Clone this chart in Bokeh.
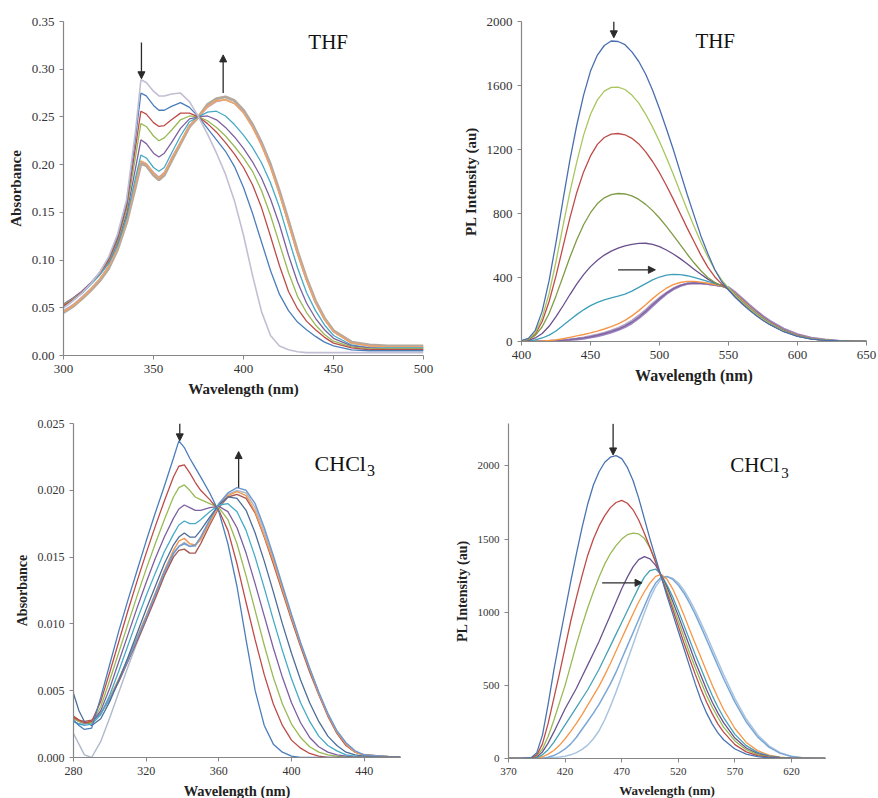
from bokeh.plotting import figure
from bokeh.layouts import column, row
from bokeh.models import Range1d, FixedTicker, PrintfTickFormatter, Label, Arrow, NormalHead
from bokeh.embed import file_html
from bokeh.resources import INLINE

# ---------------- Panel 1: THF absorbance ----------------
thf_abs_nm = [300,305,310,315,320,325,330,335,340,343,346,350,353,356,360,365,370,375,380,385,390,395,400,405,410,415,420,425,430,435,440,445,450,460,470,480,490,500]
thf_abs_gray = [.050,.057,.065,.075,.087,.103,.127,.163,.235,.289,.286,.277,.272,.272,.274,.275,.266,.250,.232,.212,.190,.162,.126,.084,.046,.021,.010,.006,.004,.003,.003,.003,.003,.003,.003,.003,.003,.003]
thf_abs_blue = [.050,.057,.065,.075,.087,.102,.125,.160,.228,.275,.272,.262,.257,.257,.261,.265,.260,.250,.238,.226,.214,.198,.176,.149,.119,.089,.064,.047,.035,.027,.020,.014,.010,.006,.005,.005,.005,.005]
thf_abs_red = [.052,.058,.066,.075,.086,.100,.122,.156,.218,.256,.253,.244,.240,.241,.247,.254,.254,.250,.243,.234,.223,.211,.197,.179,.155,.125,.094,.067,.049,.036,.027,.019,.013,.008,.006,.006,.006,.006]
thf_abs_green = [.053,.059,.066,.075,.086,.099,.120,.152,.208,.243,.240,.230,.225,.228,.236,.247,.251,.250,.246,.239,.230,.219,.207,.193,.173,.147,.117,.087,.062,.045,.032,.022,.015,.009,.007,.007,.007,.007]
thf_abs_purple = [.054,.060,.067,.076,.086,.098,.118,.148,.196,.226,.222,.212,.208,.212,.223,.238,.248,.250,.251,.247,.239,.229,.217,.203,.186,.164,.137,.105,.077,.055,.039,.027,.018,.010,.008,.007,.007,.007]
thf_abs_aqua = [.052,.058,.065,.074,.084,.096,.115,.144,.186,.210,.207,.197,.193,.197,.212,.230,.245,.250,.255,.256,.251,.242,.231,.218,.202,.181,.155,.123,.092,.066,.047,.032,.021,.011,.008,.008,.008,.008]
thf_abs_orange = [.046,.052,.060,.069,.080,.093,.113,.141,.180,.204,.201,.191,.186,.191,.206,.223,.241,.250,.261,.267,.268,.264,.254,.239,.220,.197,.169,.138,.107,.079,.055,.038,.025,.013,.010,.009,.009,.009]
thf_abs_tan = [.045,.051,.059,.068,.078,.091,.111,.139,.177,.201,.199,.189,.184,.189,.204,.222,.240,.250,.263,.269,.271,.267,.257,.242,.223,.200,.172,.141,.109,.081,.057,.039,.026,.014,.011,.010,.010,.010]
thf_abs_lav = [.047,.053,.061,.070,.080,.093,.113,.141,.179,.203,.201,.192,.187,.192,.207,.224,.241,.250,.260,.266,.268,.264,.255,.240,.221,.198,.170,.139,.107,.079,.056,.038,.025,.013,.010,.009,.009,.009]
thf_abs_xticks = [300, 350, 400, 450, 500]
thf_abs_yticks = [0, 0.05, 0.10, 0.15, 0.20, 0.25, 0.30, 0.35]

# ---------------- Panel 2: THF PL ----------------
thf_pl_nm = [400,405,410,415,420,425,430,435,440,445,450,455,460,465,470,475,480,485,490,495,500,505,510,515,520,525,530,535,540,545,550,555,560,565,570,575,580,590,600,610,620,630,640,650]
thf_pl_blue = [5,20,70,190,380,620,880,1130,1350,1540,1690,1790,1850,1878,1875,1855,1810,1750,1670,1570,1455,1330,1200,1060,920,790,660,550,450,375,322,275,234,197,162,131,105,61,32,15,7,3,1,0]
thf_pl_lgreen = [4,16,55,150,300,500,720,930,1120,1290,1420,1510,1565,1588,1590,1575,1540,1490,1420,1340,1250,1150,1045,935,825,720,620,530,450,385,335,288,246,207,171,139,111,65,34,16,8,3,1,0]
thf_pl_red = [4,14,48,125,250,410,590,770,930,1060,1160,1232,1275,1296,1300,1292,1270,1235,1185,1125,1055,975,890,800,710,625,540,465,405,360,325,280,238,200,165,134,107,63,33,16,7,3,1,0]
thf_pl_olive = [3,11,38,92,175,285,405,525,635,730,805,862,898,918,925,922,910,888,857,818,772,720,663,605,547,492,442,400,370,350,325,282,240,202,167,136,109,64,34,16,7,3,1,0]
thf_pl_purple = [2,7,22,50,95,155,222,292,358,418,468,508,540,565,583,597,607,613,614,607,593,572,547,518,486,452,420,390,367,350,328,287,245,206,171,139,111,66,35,17,8,3,1,0]
thf_pl_teal = [1,3,10,22,40,66,100,135,168,198,224,244,260,272,283,296,315,338,362,385,403,415,420,418,411,401,389,376,363,350,330,290,250,211,175,143,114,68,37,18,8,3,1,0]
thf_pl_orange = [0,1,2,3,6,10,17,26,35,44,54,65,78,93,110,132,160,193,230,268,303,333,355,369,376,376,371,364,356,348,333,296,257,218,181,148,118,71,39,19,9,4,1,0]
thf_pl_lav1 = [0,0,1,2,3,5,8,12,17,23,30,39,50,63,78,97,122,153,190,230,268,302,330,350,362,366,364,359,353,347,336,302,264,225,188,154,124,76,42,21,10,4,1,0]
thf_pl_lav2 = [0,0,1,2,4,7,11,15,20,27,35,45,56,70,86,107,132,164,200,240,275,307,334,352,363,365,363,358,352,346,337,304,266,227,190,156,126,78,43,22,10,4,1,0]
thf_pl_lav3 = [0,0,1,1,2,4,6,10,14,19,26,34,45,57,72,91,115,146,182,222,262,298,327,348,361,365,364,360,354,348,338,306,268,229,192,158,128,79,44,22,11,4,1,0]
thf_pl_xticks = [400, 450, 500, 550, 600, 650]
thf_pl_yticks = [0, 400, 800, 1200, 1600, 2000]

# ---------------- Panel 3: CHCl3 absorbance ----------------
chcl3_abs_nm = [280,283,286,290,295,300,305,310,315,320,325,330,335,338,341,344,347,350,355,360,365,370,375,380,385,390,395,400,405,410,415,420,425,430,435,440,450,460]
chcl3_abs_blue = [.0028,.0024,.0021,.0022,.0045,.0070,.0095,.0118,.0140,.0162,.0183,.0203,.0224,.0237,.0232,.0224,.0217,.0210,.0198,.0184,.0160,.0128,.0088,.0050,.0024,.0010,.0004,.0001,0,0,0,0,0,0,0,0,0,0]
chcl3_abs_red = [.0030,.0028,.0026,.0027,.0042,.0064,.0087,.0110,.0132,.0153,.0173,.0192,.0210,.0218,.0219,.0213,.0206,.0200,.0193,.0185,.0170,.0145,.0116,.0088,.0062,.0040,.0024,.0013,.0007,.0003,.0001,0,0,0,0,0,0,0]
chcl3_abs_green = [.0029,.0027,.0026,.0026,.0038,.0058,.0079,.0100,.0121,.0141,.0160,.0178,.0195,.0202,.0204,.0200,.0195,.0193,.0190,.0187,.0178,.0160,.0136,.0110,.0084,.0060,.0040,.0025,.0015,.0008,.0004,.0002,.0001,0,0,0,0,0]
chcl3_abs_purple = [.0029,.0027,.0026,.0026,.0035,.0052,.0072,.0092,.0112,.0131,.0149,.0165,.0179,.0186,.0189,.0187,.0185,.0185,.0187,.0188,.0184,.0172,.0153,.0130,.0106,.0082,.0060,.0041,.0026,.0015,.0008,.0004,.0002,.0001,0,0,0,0]
chcl3_abs_teal = [.0027,.0025,.0024,.0025,.0032,.0047,.0065,.0084,.0103,.0121,.0138,.0154,.0167,.0174,.0177,.0175,.0175,.0178,.0184,.0189,.0190,.0184,.0170,.0150,.0127,.0103,.0080,.0059,.0041,.0027,.0016,.0009,.0005,.0002,.0001,0,0,0]
chcl3_abs_steel = [.0048,.0035,.0027,.0024,.0029,.0042,.0058,.0075,.0093,.0111,.0128,.0145,.0159,.0165,.0168,.0165,.0165,.0170,.0180,.0189,.0195,.0194,.0185,.0168,.0147,.0124,.0100,.0078,.0058,.0041,.0027,.0016,.0009,.0004,.0002,.0001,0,0]
chcl3_abs_orange = [.0030,.0027,.0026,.0027,.0033,.0045,.0059,.0074,.0090,.0106,.0123,.0140,.0155,.0162,.0164,.0160,.0159,.0163,.0176,.0188,.0196,.0199,.0196,.0184,.0166,.0147,.0126,.0105,.0085,.0066,.0048,.0032,.0019,.0010,.0004,.0002,.0001,0]
chcl3_abs_ltblue = [.0027,.0025,.0025,.0027,.0033,.0044,.0058,.0073,.0089,.0105,.0122,.0139,.0153,.0158,.0160,.0158,.0159,.0165,.0178,.0190,.0198,.0202,.0200,.0190,.0172,.0151,.0129,.0107,.0086,.0067,.0049,.0033,.0020,.0011,.0005,.0002,.0001,0]
chcl3_abs_brown = [.0031,.0028,.0027,.0028,.0033,.0044,.0057,.0072,.0087,.0103,.0119,.0136,.0150,.0155,.0156,.0153,.0153,.0160,.0174,.0187,.0195,.0197,.0194,.0183,.0165,.0145,.0124,.0103,.0083,.0064,.0047,.0031,.0018,.0009,.0004,.0002,.0001,0]
chcl3_abs_gray = [.0018,.0010,.0002,.0000,.0012,.0030,.0049,.0068,.0086,.0103,.0120,.0137,.0152,.0158,.0161,.0158,.0158,.0164,.0177,.0189,.0197,.0200,.0198,.0187,.0169,.0149,.0127,.0106,.0085,.0066,.0048,.0032,.0019,.0010,.0004,.0002,.0001,0]
chcl3_abs_xticks = [280, 320, 360, 400, 440]
chcl3_abs_yticks = [0, 0.005, 0.010, 0.015, 0.020, 0.025]

# ---------------- Panel 4: CHCl3 PL ----------------
chcl3_pl_nm = [370,380,390,395,400,405,410,415,420,425,430,435,440,445,450,455,460,465,470,475,480,485,490,495,500,505,510,515,520,525,530,535,540,545,550,555,560,570,580,590,600,610,620,630,640,650]
chcl3_pl_blue = [0,0,5,40,160,370,600,810,1010,1210,1400,1580,1740,1870,1960,2025,2060,2070,2050,1990,1900,1780,1640,1500,1370,1240,1110,990,870,750,630,510,400,310,235,175,128,65,30,13,5,2,0,0,0,0]
chcl3_pl_red = [0,0,3,25,100,240,410,580,760,940,1100,1250,1390,1500,1590,1660,1715,1750,1765,1745,1700,1630,1540,1440,1340,1240,1130,1020,905,790,680,575,475,385,305,235,180,95,45,20,8,3,1,0,0,0]
chcl3_pl_green = [0,0,2,18,65,150,260,380,500,640,780,910,1030,1140,1240,1330,1400,1455,1500,1530,1540,1535,1505,1440,1350,1245,1150,1045,940,830,720,620,525,430,350,280,215,120,60,27,11,4,1,0,0,0]
chcl3_pl_purple = [0,0,1,12,45,105,180,260,340,410,480,560,640,720,800,890,980,1070,1160,1240,1310,1360,1380,1365,1320,1250,1170,1075,975,870,765,660,565,470,385,310,245,140,72,33,14,5,2,0,0,0]
chcl3_pl_teal = [0,0,0,6,25,60,110,170,230,290,350,410,470,540,610,690,770,850,930,1010,1090,1170,1240,1285,1295,1255,1185,1105,1010,910,810,710,615,520,430,350,280,165,88,42,18,7,2,1,0,0]
chcl3_pl_orange = [0,0,0,3,12,30,55,90,135,185,240,300,365,430,495,570,650,735,820,905,990,1070,1140,1200,1245,1258,1225,1160,1075,980,880,785,690,595,500,415,335,205,110,54,23,9,3,1,0,0]
chcl3_pl_ltblue1 = [0,0,0,1,2,8,20,40,65,100,145,200,255,310,370,440,510,590,680,770,860,950,1040,1130,1200,1240,1245,1225,1185,1130,1062,985,900,812,722,632,545,385,250,148,78,35,13,4,1,0]
chcl3_pl_ltblue2 = [0,0,0,0,1,3,6,10,16,25,40,62,92,135,190,265,355,455,560,670,780,890,995,1095,1175,1228,1242,1232,1200,1150,1085,1010,928,842,752,662,574,410,270,162,87,40,16,5,1,0]
chcl3_pl_xticks = [370, 420, 470, 520, 570, 620]
chcl3_pl_yticks = [0, 500, 1000, 1500, 2000]

SERIF = "Liberation Serif"
AXIS_GRAY = "#868686"
ARROW_COLOR = "#2b2b2b"


def make_fig(xr, yr, fw, fh, left, right, top, bottom, xticks, yticks, yfmt, xlabel, ylabel,
             tick_size, xlab_size, ylab_size):
    p = figure(frame_width=fw, frame_height=fh, x_range=Range1d(*xr), y_range=Range1d(*yr),
               output_backend="svg", toolbar_location=None, tools="")
    p.min_border_left = left
    p.min_border_right = right
    p.min_border_top = top
    p.min_border_bottom = bottom
    p.outline_line_color = None
    p.background_fill_color = "white"
    p.border_fill_color = "white"
    p.xgrid.visible = False
    p.ygrid.visible = False
    p.xaxis.ticker = FixedTicker(ticks=xticks)
    p.yaxis.ticker = FixedTicker(ticks=yticks)
    if yfmt:
        p.yaxis.formatter = PrintfTickFormatter(format=yfmt)
    for ax in (p.xaxis[0], p.yaxis[0]):
        ax.axis_line_color = AXIS_GRAY
        ax.axis_line_width = 1.2
        ax.major_tick_line_color = AXIS_GRAY
        ax.major_tick_in = 0
        ax.major_tick_out = 4
        ax.minor_tick_line_color = None
        ax.major_label_text_font = SERIF
        ax.major_label_text_font_size = tick_size
        ax.major_label_text_color = "#333333"
        ax.major_label_standoff = 5
        ax.axis_label_text_font = SERIF
        ax.axis_label_text_font_style = "bold"
        ax.axis_label_text_color = "#222222"
        ax.axis_label_standoff = 5
    p.xaxis.axis_label = xlabel
    p.yaxis.axis_label = ylabel
    p.xaxis.axis_label_text_font_size = xlab_size
    p.yaxis.axis_label_text_font_size = ylab_size
    return p


def add_arrow(p, xs, ys, xe, ye):
    p.add_layout(Arrow(end=NormalHead(size=7, fill_color=ARROW_COLOR, line_color=ARROW_COLOR),
                       x_start=xs, y_start=ys, x_end=xe, y_end=ye,
                       line_color=ARROW_COLOR, line_width=1.3))


# Panel 1
p1 = make_fig((300, 500), (0, 0.35), 360, 334, 63, 17, 19, 45, thf_abs_xticks, thf_abs_yticks, "%.2f",
              "Wavelength (nm)", "Absorbance", "13px", "15px", "15px")
for ys, c, w in [(thf_abs_tan, "#B5A99C", 3.0), (thf_abs_lav, "#B7A8D0", 1.4), (thf_abs_orange, "#F2A25E", 1.4),
                 (thf_abs_aqua, "#46AAC5", 1.3), (thf_abs_purple, "#7D60A0", 1.3), (thf_abs_green, "#98B954", 1.3),
                 (thf_abs_red, "#BE4B48", 1.3), (thf_abs_blue, "#4A7EBB", 1.3), (thf_abs_gray, "#C3BFD3", 1.6)]:
    p1.line(thf_abs_nm, ys, line_color=c, line_width=w)
add_arrow(p1, 343.3, 0.328, 343.3, 0.290)
add_arrow(p1, 388.7, 0.275, 388.7, 0.315)
p1.add_layout(Label(x=436, y=0.328, text="THF", text_font=SERIF, text_font_size="21px",
                    text_baseline="middle", text_align="left", text_color="#111111"))

# Panel 2
p2 = make_fig((400, 650), (0, 2000), 345, 320, 81, 11, 21, 57, thf_pl_xticks, thf_pl_yticks, None,
              "Wavelength (nm)", "PL Intensity (au)", "13px", "16px", "15px")
for ys, c, w in [(thf_pl_lav3, "#9D86BF", 2.4), (thf_pl_lav2, "#B3A2C7", 1.6), (thf_pl_lav1, "#8064A2", 1.4),
                 (thf_pl_orange, "#F79646", 1.4), (thf_pl_teal, "#3E9FB9", 1.3), (thf_pl_purple, "#6A4F8F", 1.3),
                 (thf_pl_olive, "#7F9C45", 1.3), (thf_pl_red, "#BE4B48", 1.3), (thf_pl_lgreen, "#A9C65F", 1.3),
                 (thf_pl_blue, "#4A6FB0", 1.3)]:
    p2.line(thf_pl_nm, ys, line_color=c, line_width=w)
add_arrow(p2, 466.9, 2000, 466.9, 1898)
add_arrow(p2, 470, 448, 497, 448)
p2.add_layout(Label(x=526, y=1880, text="THF", text_font=SERIF, text_font_size="21px",
                    text_baseline="middle", text_align="left", text_color="#111111"))

# Panel 3
p3 = make_fig((280, 460), (0, 0.025), 327, 334, 73, 40, 25, 36, chcl3_abs_xticks, chcl3_abs_yticks, "%.3f",
              "Wavelength (nm)", "Absorbance", "12px", "14.5px", "14px")
for ys, c, w in [(chcl3_abs_gray, "#AEB9C9", 1.4), (chcl3_abs_brown, "#A65A55", 1.4), (chcl3_abs_orange, "#F29A55", 1.5),
                 (chcl3_abs_ltblue, "#6F99CF", 1.5), (chcl3_abs_steel, "#4D6E98", 1.3), (chcl3_abs_teal, "#46AAC5", 1.3),
                 (chcl3_abs_purple, "#7D60A0", 1.3), (chcl3_abs_green, "#98B954", 1.3), (chcl3_abs_red, "#BE4B48", 1.3),
                 (chcl3_abs_blue, "#4A7EBB", 1.3)]:
    p3.line(chcl3_abs_nm, ys, line_color=c, line_width=w)
add_arrow(p3, 338.5, 0.025, 338.5, 0.0237)
add_arrow(p3, 370.9, 0.0202, 370.9, 0.0229)
p3.add_layout(Label(x=412.7, y=0.0220, text="CHCl", text_font=SERIF, text_font_size="22px",
                    text_baseline="middle", text_align="left", text_color="#111111"))
p3.add_layout(Label(x=441.5, y=0.02150, text="3", text_font=SERIF, text_font_size="16px",
                    text_baseline="middle", text_align="left", text_color="#111111"))

# Panel 4
p4 = make_fig((370, 650), (0, 2290), 317, 335, 68, 44, 24, 36, chcl3_pl_xticks, chcl3_pl_yticks, None,
              "Wavelength (nm)", "PL Intensity (au)", "11px", "13px", "14px")
for ys, c, w in [(chcl3_pl_ltblue2, "#A9C4DE", 1.5), (chcl3_pl_ltblue1, "#7BA7D6", 1.5), (chcl3_pl_orange, "#F79646", 1.3),
                 (chcl3_pl_teal, "#46A1B8", 1.3), (chcl3_pl_purple, "#6A5391", 1.3), (chcl3_pl_green, "#98B954", 1.3),
                 (chcl3_pl_red, "#BE4B48", 1.3), (chcl3_pl_blue, "#4A74B0", 1.3)]:
    p4.line(chcl3_pl_nm, ys, line_color=c, line_width=w)
add_arrow(p4, 462.4, 2289, 462.4, 2075)
add_arrow(p4, 452.7, 1201, 488, 1201)
p4.add_layout(Label(x=565.9, y=2007, text="CHCl", text_font=SERIF, text_font_size="21px",
                    text_baseline="middle", text_align="left", text_color="#111111"))
p4.add_layout(Label(x=610.9, y=1955, text="3", text_font=SERIF, text_font_size="15px",
                    text_baseline="middle", text_align="left", text_color="#111111"))

layout = column(row(p1, p2), row(p3, p4))
open("out.html", "w").write(file_html(layout, INLINE))
